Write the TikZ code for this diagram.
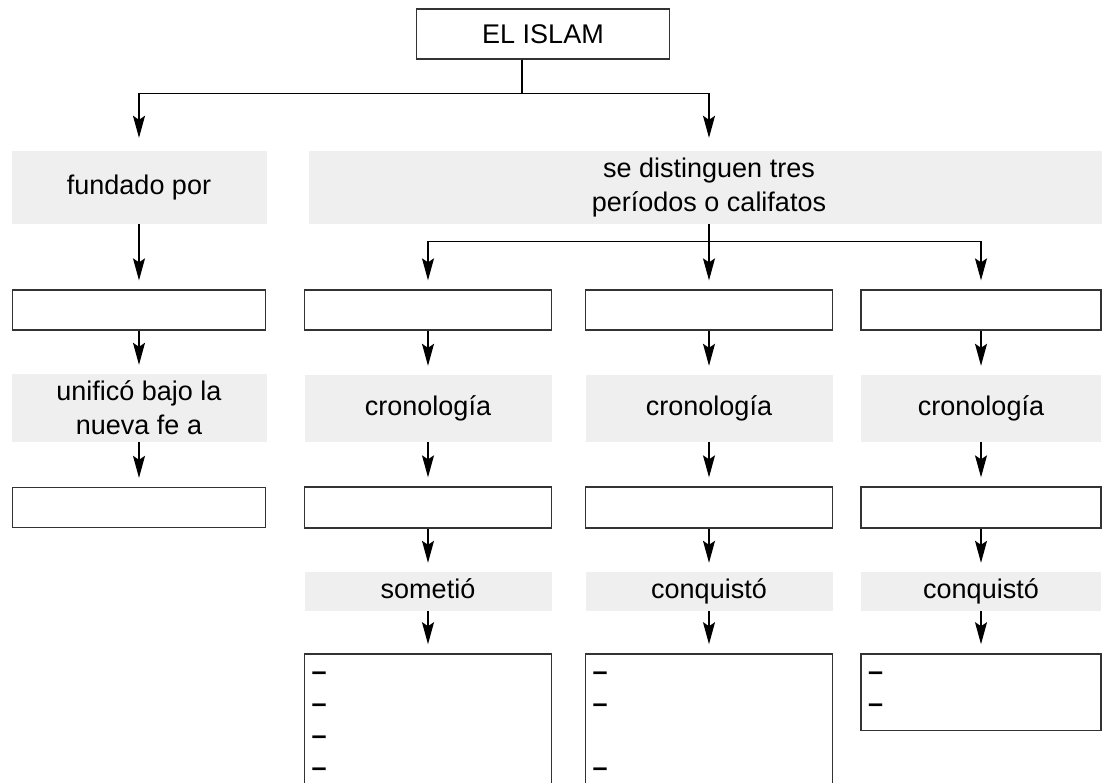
\documentclass[tikz,border=0pt]{standalone}
\usepackage{fontspec}
\setmainfont{Liberation Sans}
\usetikzlibrary{positioning,arrows.meta}
\definecolor{panel}{HTML}{EFEFEF}
\definecolor{rule}{HTML}{333333}

\begin{document}
\begin{tikzpicture}[x=1pt,y=1pt,node distance=99pt,on grid,
    every node/.style={font=\fontsize{27}{34}\selectfont,inner sep=0pt},
    emptybox/.style={draw=rule,line width=1.3pt,minimum height=40pt},
    greybox/.style={fill=panel,align=center},
    oneline/.style={text height=20pt,text depth=6pt},
    listbox/.style={draw=rule,line width=1.3pt,align=left,inner xsep=7pt,
      inner ysep=18pt,font=\fontsize{27}{32}\bfseries},
    >={Stealth[length=22pt,width=12pt,inset=4pt]},
    link/.style={->,line width=1.3pt,shorten >=9pt}]
  \useasboundingbox (0,0) rectangle (1102,-783);
  \node[emptybox,minimum width=253pt,minimum height=50pt] (islam) at (543,-34) {EL ISLAM};
  \node[greybox,oneline,minimum width=255pt,minimum height=73pt] (fundado) at (139,-187.5) {fundado por};
  \node[greybox,minimum width=800pt,minimum height=73pt] (tres) at (709,-187.5) {se distinguen tres\\períodos o califatos};
  % left column
  \node[emptybox,minimum width=253pt] (fundador) [below=122.5pt of fundado] {};
  \node[greybox,minimum width=255pt,minimum height=68pt] (unifico) [below=98pt of fundador] {unificó bajo la\\nueva fe a};
  \node[emptybox,minimum width=253pt] (pueblo) [below=99.5pt of unifico] {};
  % the three califatos
  \node[emptybox,minimum width=247pt] (califa1) at (428,-310) {};
  \node[greybox,oneline,minimum width=247pt,minimum height=67pt] (crono1) [below=98.5pt of califa1] {cronología};
  \node[emptybox,minimum width=247pt,minimum height=41pt] (fecha1) [below=99pt of crono1] {};
  \node[greybox,oneline,minimum width=247pt,minimum height=39pt] (accion1) [below=84pt of fecha1] {sometió};
  \node[listbox,text width=233pt] (lista1) [below=42pt of accion1.south,anchor=north] {–\\–\\–\\–};
  \node[emptybox,minimum width=247pt] (califa2) at (709,-310) {};
  \node[greybox,oneline,minimum width=247pt,minimum height=67pt] (crono2) [below=98.5pt of califa2] {cronología};
  \node[emptybox,minimum width=247pt,minimum height=41pt] (fecha2) [below=99pt of crono2] {};
  \node[greybox,oneline,minimum width=247pt,minimum height=39pt] (accion2) [below=84pt of fecha2] {conquistó};
  \node[listbox,text width=233pt] (lista2) [below=42pt of accion2.south,anchor=north] {–\\–\\[32pt]–};
  \node[emptybox,minimum width=240pt] (califa3) at (981,-310) {};
  \node[greybox,oneline,minimum width=240pt,minimum height=67pt] (crono3) [below=98.5pt of califa3] {cronología};
  \node[emptybox,minimum width=240pt,minimum height=41pt] (fecha3) [below=99pt of crono3] {};
  \node[greybox,oneline,minimum width=240pt,minimum height=39pt] (accion3) [below=84pt of fecha3] {conquistó};
  \node[listbox,text width=226pt] (lista3) [below=42pt of accion3.south,anchor=north] {–\\–};
  \draw[link,shorten >=13pt] ([xshift=-21pt]islam.south) -- ++(0,-34) -| (fundado.north);
  \draw[link,shorten >=13pt] ([xshift=-21pt]islam.south) -- ++(0,-34) -| (tres.north);
  \draw[link] (tres.south) -- (califa2.north);
  \draw[link] (tres.south) ++(0,-17) -| (califa1.north);
  \draw[link] (tres.south) ++(0,-17) -| (califa3.north);
  \path[link]
  (fundado) edge (fundador)
  (fundador) edge (unifico)
  (unifico) edge (pueblo)
  (califa1) edge (crono1)
  (crono1) edge (fecha1)
  (fecha1) edge (accion1)
  (accion1) edge (lista1)
  (califa2) edge (crono2)
  (crono2) edge (fecha2)
  (fecha2) edge (accion2)
  (accion2) edge (lista2)
  (califa3) edge (crono3)
  (crono3) edge (fecha3)
  (fecha3) edge (accion3)
  (accion3) edge (lista3)
  ;
\end{tikzpicture}
\end{document}
